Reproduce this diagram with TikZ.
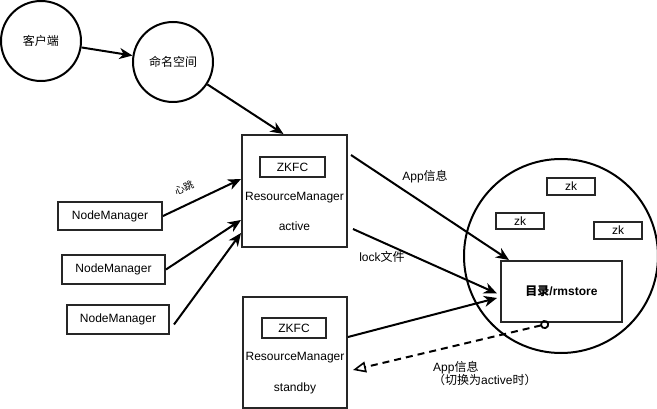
\documentclass[tikz,border=0pt]{standalone}
\usepackage{fontspec}
\setmainfont{Liberation Sans}
\newfontfamily\cjk{Noto Sans CJK SC}
\usetikzlibrary{arrows.meta,calc}
\begin{document}
\begin{tikzpicture}[x=1pt,y=-1pt,
  lbl/.style={font=\fontsize{12}{14}\selectfont, inner sep=0pt},
  circ/.style={circle,draw,line width=2pt,minimum size=80pt,inner sep=0pt,font=\fontsize{12}{14}\selectfont},
  box/.style={draw=black!85,line width=2pt,inner sep=0pt,font=\fontsize{12}{14}\selectfont},
  arr/.style={line width=2pt,-{Stealth[length=13pt,width=11pt,inset=4pt]}},
  darr/.style={line width=2pt,dash pattern=on 7pt off 5pt,{Circle[open,length=9pt,width=9pt,line width=1.8pt]}-{Triangle[open,length=13pt,width=11pt,line width=1.6pt]}}
]
\useasboundingbox (0,0) rectangle (657,409);

% circles
\node[circ] (c1) at (41,41) {\cjk 客户端};
\node[circ] (c2) at (173,62) {\cjk 命名空间};

% RM active
\node[box, minimum width=105pt, minimum height=112pt] (rma) at (294.5,191) {};
\node[box, minimum width=65pt, minimum height=20pt] (zka) at (292.5,167) {ZKFC};
\node[lbl] (rmat) at (294.5,198) {ResourceManager};
\node[lbl] (acta) at (294.5,226) {active};

% RM standby
\node[box, minimum width=104pt, minimum height=111pt] (rms) at (295,352.5) {};
\node[box, minimum width=64pt, minimum height=20pt] (zks) at (294,328) {ZKFC};
\node[lbl] (rmst) at (295,358) {ResourceManager};
\node[lbl] (stby) at (295,388) {standby};

% NodeManagers
\node[box, minimum width=104pt, minimum height=28pt] (nm1) at (110,216) {NodeManager};
\node[box, minimum width=103pt, minimum height=29pt] (nm2) at (113.5,269.5) {NodeManager};
\node[box, minimum width=102pt, minimum height=29pt] (nm3) at (118,319.5) {NodeManager};

% zookeeper circle
\node[circle, draw, line width=2pt, minimum size=194pt, inner sep=0pt] (zkc) at (561,256) {};
\node[box, minimum width=48pt, minimum height=17pt] (zk1) at (571,186.5) {zk};
\node[box, minimum width=48pt, minimum height=16pt] (zk2) at (520,221) {zk};
\node[box, minimum width=48pt, minimum height=17pt] (zk3) at (618,230.5) {zk};
\node[box, minimum width=121pt, minimum height=61pt, font=\fontsize{12}{14}\selectfont\bfseries] (store) at (561.5,291.5) {{\cjk 目录}/rmstore};

% connectors
\draw[arr] (c1) -- (c2);
\draw[arr] (c2) -- ([xshift=-11pt]rma.north);
\draw[arr] (nm1.east) -- ([yshift=12pt]rma.west);
\draw[arr] (nm2.east) -- ([yshift=-29pt]rma.west);
\draw[arr] ([xshift=4pt,yshift=-5pt]nm3.east) -- ([yshift=-42pt]rma.west);
\draw[arr] ([xshift=3pt,yshift=36pt]rma.east) -- ([xshift=9pt]store.north west);
\draw[arr] ([xshift=5pt,yshift=-38pt]rma.east) -- ([xshift=-3pt,yshift=-2pt]store.west);
\draw[arr] ([yshift=15.5pt]rms.east) -- ([xshift=-3pt,yshift=-6.5pt]store.west);
\draw[darr] ([xshift=-12.5pt,yshift=-0.5pt]store.south) -- ([xshift=5pt,yshift=-17.5pt]rms.east);

% labels
\node[lbl, font=\fontsize{10}{12}\selectfont, rotate=25] (hb) at (184,188) {\cjk 心跳};
\node[lbl] (l1) at (425,177) {App{\cjk 信息}};
\node[lbl] (l2) at (382,257) {lock{\cjk 文件}};
\node[lbl, align=left, anchor=west, font=\fontsize{12}{13}\selectfont] (l3) at (433,373.5) {App{\cjk 信息}\\{\cjk （切换为}active{\cjk 时）}};
\end{tikzpicture}
\end{document}
